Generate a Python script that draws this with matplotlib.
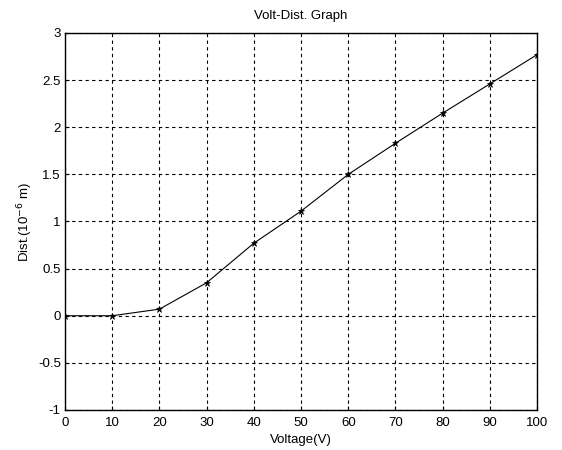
import matplotlib
matplotlib.use("Agg")
import matplotlib.pyplot as plt

# voltage (V) vs displacement (1e-6 m)
voltage = [0, 10, 20, 30, 40, 50, 60, 70, 80, 90, 100]
dist = [0, 0, 0.07, 0.35, 0.77, 1.11, 1.50, 1.83, 2.15, 2.46, 2.77]

xticks = list(range(0, 101, 10))
yticks = [-1, -0.5, 0, 0.5, 1, 1.5, 2, 2.5, 3]

plt.rcParams['font.family'] = ['Liberation Sans', 'DejaVu Sans']
plt.rcParams['font.size'] = 9.5

fig = plt.figure(figsize=(5.62, 4.5), dpi=100)
ax = fig.add_axes([0.1157, 0.0889, 0.84, 0.8378])

ax.plot(voltage, dist, color='black', linewidth=0.8, marker='*',
        markersize=4.5, markeredgewidth=0.5)

ax.set_xlim(0, 100)
ax.set_ylim(-1, 3)
ax.set_xticks(xticks)
ax.set_yticks(yticks)
ax.set_yticklabels([f"{v:g}" for v in yticks])
ax.grid(True, color='black', linestyle=(0, (3, 3)), linewidth=0.8)
ax.tick_params(direction='in', length=3, width=0.8, pad=5)
ax.tick_params(axis='y', pad=3)
for s in ax.spines.values():
    s.set_linewidth(1.0)

ax.set_title("Volt-Dist. Graph", fontsize=9.5, pad=10)
ax.set_xlabel("Voltage(V)", labelpad=4)
ax.set_ylabel("Dist.(10$^{-6}$ m)", labelpad=2)

plt.savefig("out.png", dpi=100)
